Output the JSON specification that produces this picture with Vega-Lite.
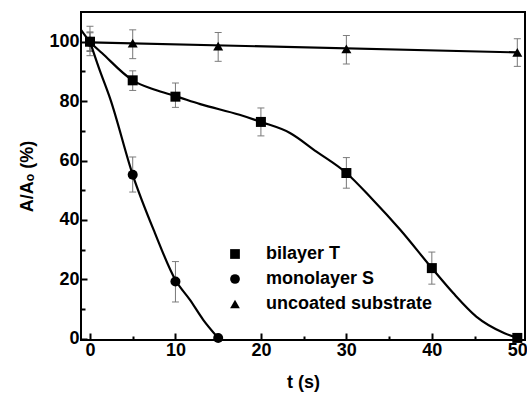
{
  "$schema": "https://vega.github.io/schema/vega-lite/v6.json",
  "width": 444,
  "height": 328,
  "autosize": "none",
  "padding": {"left": 81, "top": 12, "right": 2, "bottom": 58},
  "background": "white",
  "config": {
    "view": {"stroke": "black", "strokeWidth": 2},
    "font": "Liberation Sans",
    "axis": {
      "domain": false,
      "grid": false,
      "labelFont": "Liberation Sans",
      "labelFontWeight": "bold",
      "labelFontSize": 18,
      "labelColor": "black",
      "tickColor": "black",
      "tickWidth": 2,
      "titleFont": "Liberation Sans",
      "titleFontWeight": "bold",
      "titleFontSize": 18,
      "titleColor": "black"
    },
    "legend": {
      "labelFont": "Liberation Sans",
      "labelFontWeight": "bold",
      "labelFontSize": 18,
      "labelColor": "black",
      "labelLimit": 0
    }
  },
  "datasets": {
    "curves": [
      {"series": "bilayer T", "t": -1.05, "v": 104},
      {"series": "bilayer T", "t": 0, "v": 100},
      {"series": "bilayer T", "t": 1.4, "v": 96.2},
      {"series": "bilayer T", "t": 5, "v": 87},
      {"series": "bilayer T", "t": 7.6, "v": 83.8},
      {"series": "bilayer T", "t": 10, "v": 81.7},
      {"series": "bilayer T", "t": 12.9, "v": 79},
      {"series": "bilayer T", "t": 17.5, "v": 75.4},
      {"series": "bilayer T", "t": 20, "v": 73},
      {"series": "bilayer T", "t": 23.4, "v": 69.3},
      {"series": "bilayer T", "t": 26.5, "v": 63},
      {"series": "bilayer T", "t": 30, "v": 55.8},
      {"series": "bilayer T", "t": 32.9, "v": 47.4},
      {"series": "bilayer T", "t": 36.3, "v": 36.7},
      {"series": "bilayer T", "t": 40, "v": 23.8},
      {"series": "bilayer T", "t": 42.5, "v": 15.4},
      {"series": "bilayer T", "t": 45.2, "v": 7.5},
      {"series": "bilayer T", "t": 48.5, "v": 1.9},
      {"series": "bilayer T", "t": 50, "v": 0.3},
      {"series": "monolayer S", "t": 0, "v": 100},
      {"series": "monolayer S", "t": 1, "v": 91.5},
      {"series": "monolayer S", "t": 2.4, "v": 80.5},
      {"series": "monolayer S", "t": 5, "v": 55.2},
      {"series": "monolayer S", "t": 7.6, "v": 35.6},
      {"series": "monolayer S", "t": 10, "v": 19.8},
      {"series": "monolayer S", "t": 11.7, "v": 13.1},
      {"series": "monolayer S", "t": 13.25, "v": 6.4},
      {"series": "monolayer S", "t": 15, "v": 0.3},
      {"series": "uncoated substrate", "t": 0, "v": 99.8},
      {"series": "uncoated substrate", "t": 50, "v": 96.4}
    ],
    "points": [
      {"series": "bilayer T", "t": 0, "v": 100, "lo": 96.7, "hi": 103.3},
      {"series": "bilayer T", "t": 5, "v": 87, "lo": 83.6, "hi": 90.2},
      {"series": "bilayer T", "t": 10, "v": 81.5, "lo": 77.9, "hi": 86.1},
      {"series": "bilayer T", "t": 20, "v": 73, "lo": 68.3, "hi": 77.7},
      {"series": "bilayer T", "t": 30, "v": 55.8, "lo": 50.7, "hi": 61},
      {"series": "bilayer T", "t": 40, "v": 23.8, "lo": 18.4, "hi": 29.2},
      {"series": "bilayer T", "t": 50, "v": 0.3, "lo": 0.3, "hi": 0.3},
      {"series": "monolayer S", "t": 0, "v": 100, "lo": 97, "hi": 103},
      {"series": "monolayer S", "t": 5, "v": 55.2, "lo": 49.4, "hi": 61.2},
      {"series": "monolayer S", "t": 10, "v": 19.3, "lo": 12.4, "hi": 26},
      {"series": "monolayer S", "t": 15, "v": 0.3, "lo": 0.3, "hi": 0.3},
      {"series": "uncoated substrate", "t": 0, "v": 100, "lo": 95.3, "hi": 105.2},
      {"series": "uncoated substrate", "t": 5, "v": 99.5, "lo": 94.3, "hi": 104},
      {"series": "uncoated substrate", "t": 15, "v": 98.5, "lo": 93.4, "hi": 103.1},
      {"series": "uncoated substrate", "t": 30, "v": 97.6, "lo": 92.5, "hi": 102.1},
      {"series": "uncoated substrate", "t": 50, "v": 96.4, "lo": 91.7, "hi": 101}
    ]
  },
  "encoding": {
    "x": {
      "field": "t", "type": "quantitative",
      "scale": {"domain": [-1.05, 50.9], "nice": false, "zero": false},
      "axis": {
        "title": "t (s)",
        "values": [0, 5, 10, 15, 20, 25, 30, 35, 40, 45, 50],
        "labelExpr": "datum.value % 10 === 0 ? datum.label : ''",
        "tickSize": {"condition": {"test": "datum.value % 10 === 0", "value": -7}, "value": -4},
        "labelPadding": 8,
        "titlePadding": 14
      }
    },
    "y": {
      "field": "v", "type": "quantitative",
      "scale": {"domain": [-0.4, 110], "nice": false, "zero": false},
      "axis": {
        "title": "A/Aₒ (%)",
        "values": [0, 10, 20, 30, 40, 50, 60, 70, 80, 90, 100],
        "labelExpr": "datum.value % 20 === 0 ? datum.label : ''",
        "tickSize": {"condition": {"test": "datum.value % 20 === 0", "value": -6}, "value": -4},
        "labelPadding": 8,
        "titlePadding": 12
      }
    }
  },
  "layer": [
    {
      "data": {"name": "points"},
      "mark": {"type": "errorbar", "color": "#777777", "thickness": 1, "ticks": {"color": "#444444", "size": 7}},
      "encoding": {
        "y": {"field": "lo", "type": "quantitative"},
        "y2": {"field": "hi"}
      }
    },
    {
      "data": {"name": "curves"},
      "mark": {"type": "line", "color": "black", "strokeWidth": 2.2, "interpolate": "monotone", "clip": true},
      "encoding": {"detail": {"field": "series"}}
    },
    {
      "data": {"name": "points"},
      "mark": {"type": "point", "filled": true, "color": "black", "opacity": 1, "size": 100},
      "encoding": {
        "shape": {
          "field": "series", "type": "nominal",
          "scale": {"domain": ["bilayer T", "monolayer S", "uncoated substrate"], "range": ["square", "circle", "triangle-up"]},
          "legend": {
            "title": null,
            "orient": "none",
            "legendX": 145,
            "legendY": 233,
            "symbolSize": 95,
            "symbolFillColor": "black",
            "symbolStrokeColor": "black",
            "labelOffset": 22,
            "rowPadding": 7
          }
        }
      }
    }
  ]
}
